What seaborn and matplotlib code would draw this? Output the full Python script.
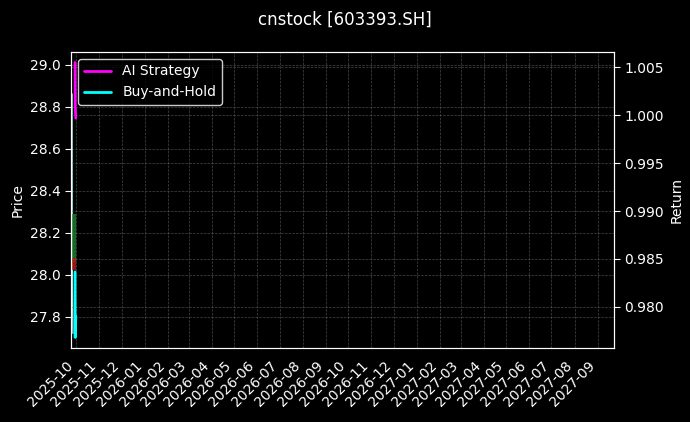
import matplotlib
matplotlib.use("Agg")
import matplotlib.pyplot as plt
import matplotlib.dates as mdates
import seaborn as sns
import pandas as pd
import numpy as np

# ---- data ----
price_dates = ["2025-09-25 10:00", "2025-09-25 13:00", "2025-09-25 15:00", "2025-09-26 10:00", "2025-09-26 14:00"]
price_close = [28.86, 28.30, 28.05, 27.78, 27.72]
candle_dates = ["2025-09-28", "2025-09-28"]
candle_low = [28.06, 28.02]
candle_high = [28.29, 28.08]
candle_colors = ["#1f7a30", "#b01a14"]

ret_dates = ["2025-09-29 10:00", "2025-09-29 13:00", "2025-09-29 15:00", "2025-09-30 10:00"]
ai_strategy = [1.0055, 1.0040, 1.0010, 0.9997]
buy_hold = [0.98365, 0.9800, 0.9768, 0.9790]

x_start, x_end = "2025-09-24", "2027-09-23"

plt.style.use("dark_background")
sns.set_style("dark", {"axes.facecolor": "black", "figure.facecolor": "black",
                       "axes.edgecolor": "white", "text.color": "white",
                       "axes.labelcolor": "white", "xtick.color": "white",
                       "ytick.color": "white", "grid.color": "#555555"})
plt.rcParams["font.family"] = ["DejaVu Sans"]

fig = plt.figure(figsize=(6.9, 4.22), dpi=100)
ax = fig.add_axes([71/690, 1-348/422, (614-71)/690, (348-52)/422])
ax2 = ax.twinx()

pdf = pd.DataFrame({"date": pd.to_datetime(price_dates), "price": price_close})
sns.lineplot(data=pdf, x="date", y="price", ax=ax, color="#9fe8e8", lw=1, legend=False)
ax.vlines(pd.to_datetime(candle_dates), candle_low, candle_high, colors=candle_colors, lw=3, alpha=0.85)
ax.set_ylim(27.65, 29.06)
ax.set_ylabel("Price")
ax.set_xlabel("")

rdf = pd.DataFrame({"date": pd.to_datetime(ret_dates), "AI Strategy": ai_strategy, "Buy-and-Hold": buy_hold})
sns.lineplot(data=rdf, x="date", y="AI Strategy", ax=ax2, color="magenta", lw=2, label="AI Strategy")
sns.lineplot(data=rdf, x="date", y="Buy-and-Hold", ax=ax2, color="cyan", lw=2, label="Buy-and-Hold")
ax2.set_ylim(0.9757, 1.0066)
ax2.set_ylabel("Return")
ax2.set_xlabel("")

ax.set_xlim(pd.Timestamp(x_start), pd.Timestamp(x_end))
ax.xaxis.set_major_locator(mdates.MonthLocator())
ax.xaxis.set_major_formatter(mdates.DateFormatter("%Y-%m"))
for lab in ax.get_xticklabels():
    lab.set_rotation(45)
    lab.set_ha("right")

ax.grid(True, linestyle="--", linewidth=0.5, color="#666666", alpha=0.7)
ax2.grid(True, linestyle="--", linewidth=0.5, color="#666666", alpha=0.7)
for a in (ax, ax2):
    a.tick_params(axis="both", which="both", length=4, color="white", labelcolor="white")
    for s in a.spines.values():
        s.set_color("white")
        s.set_visible(True)

leg = ax2.legend(loc="upper left", facecolor="black", edgecolor="white", framealpha=0.8)
for t in leg.get_texts():
    t.set_color("white")

fig.suptitle("cnstock [603393.SH]", fontsize=12, color="white", y=0.975)
fig.savefig("out.png", dpi=100, facecolor="black")
